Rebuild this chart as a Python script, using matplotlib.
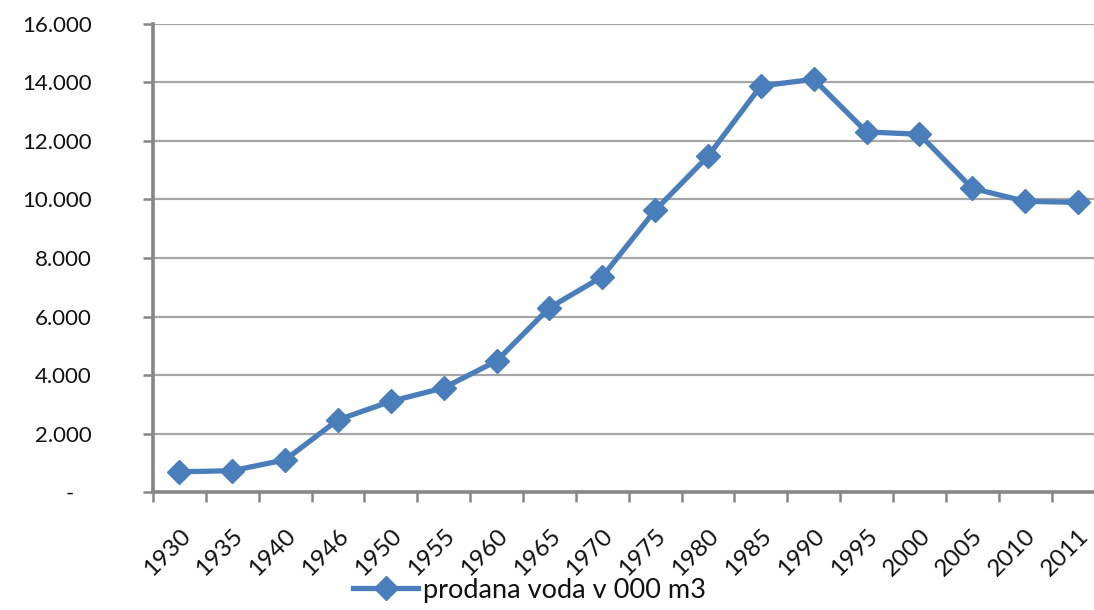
import matplotlib.pyplot as plt
from matplotlib.ticker import FixedLocator

plt.rcParams['font.family'] = ['Lato', 'DejaVu Sans']

# prodana voda v 000 m3 po letih
years = ['1930', '1935', '1940', '1946', '1950', '1955', '1960', '1965', '1970',
         '1975', '1980', '1985', '1990', '1995', '2000', '2005', '2010', '2011']
water_sold = [690, 730, 1100, 2470, 3100, 3560, 4480, 6300, 7360,
              9630, 11480, 13880, 14110, 12310, 12230, 10380, 9940, 9900]
y_ticks = [0, 2000, 4000, 6000, 8000, 10000, 12000, 14000, 16000]
y_labels = ['-   ', '2.000', '4.000', '6.000', '8.000', '10.000', '12.000', '14.000', '16.000']

blue = '#4a7ebb'
grid_grey = '#a6a6a6'
axis_grey = '#868686'
text_col = '#111111'

fig = plt.figure(figsize=(10.94, 6.10), dpi=100)
ax = fig.add_axes([0.1399, 0.1934, 0.8696, 0.7673])

x = list(range(len(years)))
ax.plot(x, water_sold, color=blue, linewidth=3.8, marker='D', markersize=12.5,
        markerfacecolor=blue, markeredgecolor=blue, label='prodana voda v 000 m3',
        zorder=3)

ax.set_xlim(-0.5, len(years) - 0.5)
ax.set_ylim(0, 16000)

# category labels in the middle, tick marks between categories
ax.set_xticks(x)
ax.set_xticklabels(years, rotation=45, ha='right', rotation_mode='anchor')
ax.xaxis.set_minor_locator(FixedLocator([i - 0.5 for i in range(len(years) + 1)]))
ax.tick_params(axis='x', which='major', length=0, pad=24, labelsize=17.5, colors=text_col)
ax.tick_params(axis='x', which='minor', length=7, width=1.8, color=axis_grey, direction='out')

ax.set_yticks(y_ticks)
ax.set_yticklabels(y_labels)
ax.tick_params(axis='y', length=7, width=1.8, color=axis_grey, direction='out',
               pad=37, labelsize=16, labelcolor=text_col)

ax.grid(axis='y', color=grid_grey, linewidth=1.6)
ax.set_axisbelow(True)

for side in ['top', 'right']:
    ax.spines[side].set_visible(False)
for side in ['left', 'bottom']:
    ax.spines[side].set_color(axis_grey)
    ax.spines[side].set_linewidth(2.6)

leg = fig.legend(loc='lower center', bbox_to_anchor=(0.484, -0.028), frameon=False,
                 fontsize=19.5, handlelength=2.4, handletextpad=0.15)
for t in leg.get_texts():
    t.set_color(text_col)

fig.savefig('out.png', dpi=100)
